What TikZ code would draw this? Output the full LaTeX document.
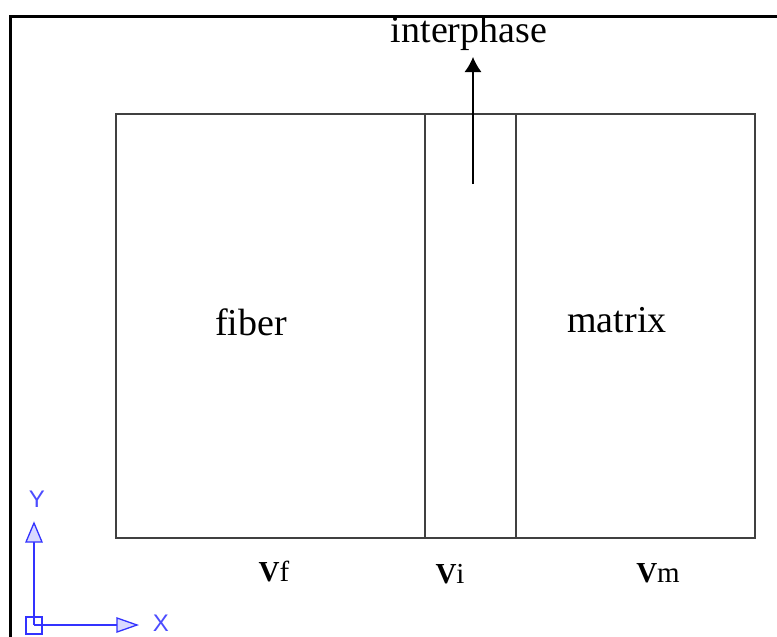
\documentclass[tikz,border=0pt]{standalone}
\usepackage{fontspec}
\setmainfont{Liberation Serif}
\newfontfamily\axisfont{Liberation Sans}
\usetikzlibrary{arrows.meta}
\begin{document}
\begin{tikzpicture}[x=1pt,y=-1pt,
  frame/.style={line width=3pt,black},
  cell/.style={draw=black!75,line width=1.2pt},
  lbl/.style={font=\fontsize{38}{38}\selectfont,inner sep=0pt},
  vol/.style={font=\fontsize{29}{29}\selectfont,inner sep=0pt},
  ucs/.style={draw=blue!80!white,line width=1.3pt},
  ucstxt/.style={text=blue!70!white,font=\axisfont\fontsize{24}{24}\selectfont,inner sep=0pt}]
\useasboundingbox (0,0) rectangle (777,637);
% drawing frame
\draw[frame] (10,637) -- (10,16) -- (777,16);
% the three phases
\draw[cell] (116,114) rectangle (755,538);
\draw[cell] (425,114) -- (425,538);
\draw[cell] (516,114) -- (516,538);
% labels
\node[lbl] (fib) at (251,322) {fiber};
\node[lbl] (mat) at (617,320) {matrix};
\node[lbl] (int) at (469,33) {interphase};
\coordinate (tail) at (473,184);
\draw[-{Latex[length=15pt,width=17pt]},line width=1.2pt] (tail) -- (473,57);
\node[vol] (vf) at (274,572) {\textbf{V}f};
\node[vol] (vi) at (450,574) {\textbf{V}i};
\node[vol] (vm) at (658,573) {\textbf{V}m};
% coordinate system icon
\coordinate (o) at (34,625);
\draw[ucs] (26,617) rectangle (42,634);
\draw[ucs] (o) -- (34,542);
\draw[ucs,fill=blue!15] (26,542) -- (34,523) -- (42,542) -- cycle;
\draw[ucs] (o) -- (117,625);
\draw[ucs,fill=blue!15] (117,618) -- (137,625) -- (117,632) -- cycle;
\node[ucstxt] (ylab) at (37,499) {Y};
\node[ucstxt] (xlab) at (161,623) {X};
\end{tikzpicture}
\end{document}
